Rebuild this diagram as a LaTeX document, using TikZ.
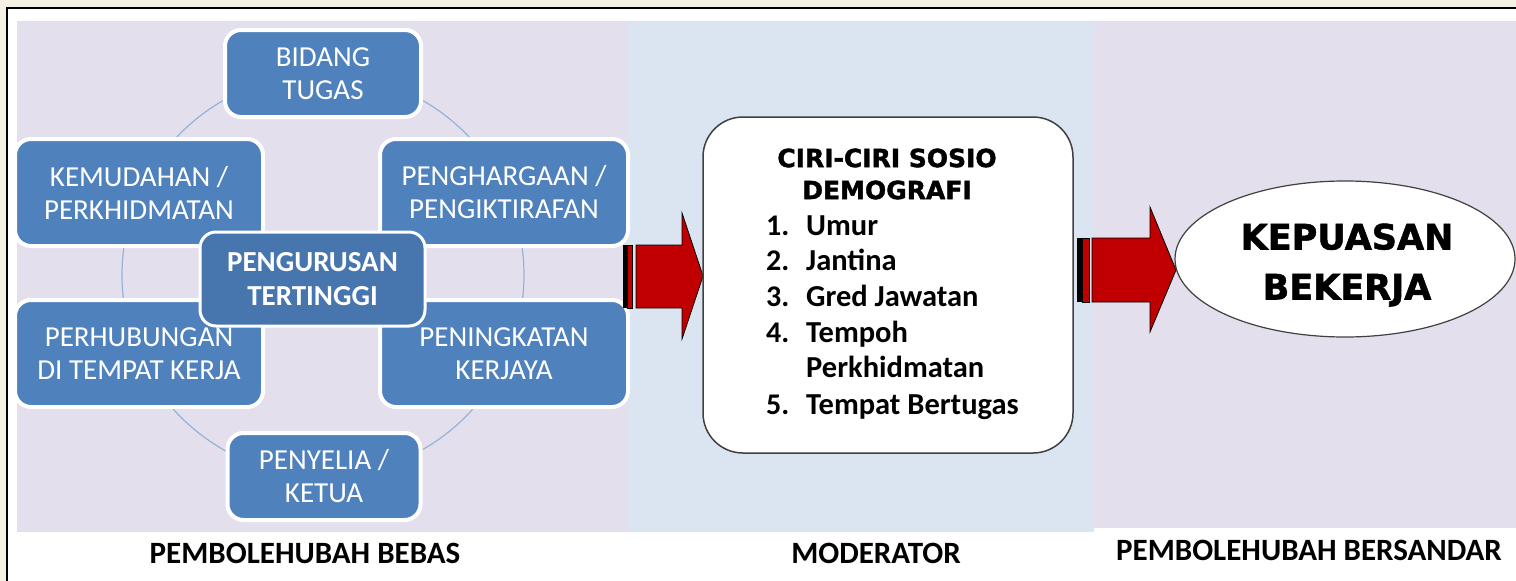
\documentclass[tikz,border=0pt]{standalone}
\usepackage{fontspec}
\setmainfont{Carlito}
\newfontfamily\heavyfont{DejaVu Sans}[BoldFeatures={FakeBold=1.5}]
\usetikzlibrary{shapes.geometric}
\definecolor{cream}{HTML}{F4F1E4}
\definecolor{lav}{HTML}{E4DFEC}
\definecolor{pblue}{HTML}{DBE5F1}
\definecolor{boxblue}{HTML}{4F81BD}
\definecolor{ctrblue}{HTML}{4776AF}
\definecolor{arcblue}{HTML}{95B3D7}
\definecolor{arrred}{HTML}{C00000}
\definecolor{modline}{HTML}{404040}
\begin{document}
\begin{tikzpicture}[x=1pt,y=-1pt,
  sbox/.style={draw=white,line width=4pt,fill=boxblue,rounded corners=16pt,
    text=white,align=center,inner sep=0pt,font=\fontsize{29}{33}\selectfont},
  cbox/.style={draw=white,line width=3pt,fill=ctrblue,rounded corners=16pt,
    text=white,align=center,inner sep=0pt,font=\bfseries\fontsize{29}{34}\selectfont},
  listnum/.style={anchor=base west,inner sep=0pt,font=\bfseries\fontsize{30}{36}\selectfont},
  listitem/.style={anchor=base west,inner sep=0pt,font=\bfseries\fontsize{30.5}{36}\selectfont},
  bigarrow/.style={fill=arrred,draw=black,line width=0.8pt},
  stripe/.style={fill=arrred,draw=black,line width=0.8pt},
  footlabel/.style={inner sep=0pt,font=\bfseries\fontsize{31}{34}\selectfont}
]
\useasboundingbox (0,0) rectangle (1516,581);
% background and frame
\fill[cream] (0,0) rectangle (1516,581);
\fill[white] (7,8) rectangle (1516,581);
\draw[black,line width=2pt] (7,581) -- (7,8) -- (1516,8);
% panels
\fill[lav] (17,21) rectangle (628,532);
\fill[pblue] (628,21) rectangle (1094,532);
\fill[lav] (1094,21) rectangle (1516,528);
% ring
\node[circle,draw=arcblue,line width=1.2pt,minimum size=402pt,inner sep=0pt] (ring) at (323,275) {};
% outer boxes
\node[sbox,minimum width=196pt,minimum height=87pt] (bidang) at (323,73.5) {BIDANG\\TUGAS};
\node[sbox,minimum width=248pt,minimum height=107pt] (kemudahan) at (139,192.5) {KEMUDAHAN /\\PERKHIDMATAN};
\node[sbox,minimum width=248pt,minimum height=107pt] (penghargaan) at (504,192.5) {PENGHARGAAN /\\PENGIKTIRAFAN};
\node[sbox,minimum width=248pt,minimum height=107pt] (perhubungan) at (139,353.5) {PERHUBUNGAN\\DI TEMPAT KERJA};
\node[sbox,minimum width=248pt,minimum height=107pt] (peningkatan) at (504,353.5) {PENINGKATAN\\KERJAYA};
\node[sbox,minimum width=193pt,minimum height=87pt] (penyelia) at (324,476.5) {PENYELIA /\\KETUA};
% centre box
\node[cbox,minimum width=225pt,minimum height=94pt] (pengurusan) at (312.5,279) {PENGURUSAN\\TERTINGGI};
% arrow 1
\fill[black] (623,245) rectangle (627,308);
\draw[stripe] (627,245) rectangle (632,308);
\draw[bigarrow] (636,245) -- (682,245) -- (682,213) -- (703,276) -- (682,339) -- (682,308) -- (636,308) -- cycle;
% moderator box
\node[draw=modline,line width=1.5pt,fill=white,rounded corners=40pt,minimum width=370pt,minimum height=336pt,inner sep=0pt] (moderator) at (888,285) {};
\node[inner sep=0pt,font=\heavyfont\bfseries\fontsize{25}{32}\selectfont,align=center] (title) at (887,174) {CIRI-CIRI SOSIO\\DEMOGRAFI};
\node[listnum] (n1) at (766,235) {1.};
\node[listitem] (i1) at (806,235) {Umur};
\node[listnum] (n2) at (766,270) {2.};
\node[listitem] (i2) at (806,270) {Jantina};
\node[listnum] (n3) at (766,306) {3.};
\node[listitem] (i3) at (806,306) {Gred Jawatan};
\node[listnum] (n4) at (766,342) {4.};
\node[listitem] (i4) at (806,342) {Tempoh};
\node[listitem] (i4b) at (806,377) {Perkhidmatan};
\node[listnum] (n5) at (766,414) {5.};
\node[listitem] (i5) at (806,414) {Tempat Bertugas};
% arrow 2
\fill[black] (1077,238) rectangle (1082,302);
\draw[stripe] (1082,238) rectangle (1089,302);
\draw[bigarrow] (1092,238) -- (1150,238) -- (1150,207) -- (1176,270) -- (1150,332) -- (1150,302) -- (1092,302) -- cycle;
% ellipse
\node[ellipse,draw=modline,line width=1.2pt,fill=white,minimum width=340pt,minimum height=156pt,inner sep=0pt] (kepuasan) at (1345,259) {};
\node[inner sep=0pt,font=\heavyfont\bfseries\fontsize{35}{50}\selectfont,align=center] (kepuasantxt) at (1347,265) {KEPUASAN\\BEKERJA};
% footer labels
\node[footlabel] (bebas) at (305,553) {PEMBOLEHUBAH BEBAS};
\node[footlabel] (mod) at (876,553) {MODERATOR};
\node[footlabel] (bersandar) at (1309,550) {PEMBOLEHUBAH BERSANDAR};
\end{tikzpicture}
\end{document}
